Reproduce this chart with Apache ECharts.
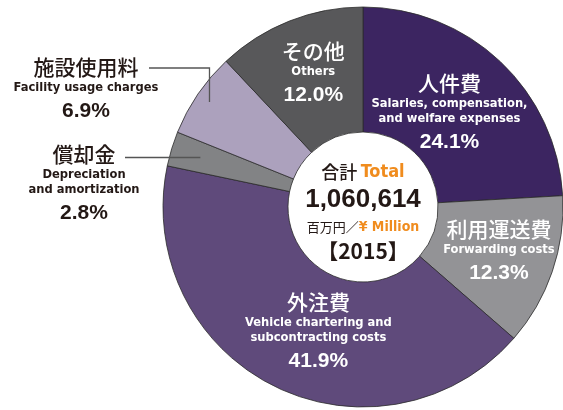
<!DOCTYPE html>
<html><head><meta charset="utf-8">
<script src="https://cdn.jsdelivr.net/npm/echarts@6/dist/echarts.min.js"></script>
<style>html,body{margin:0;padding:0;background:#fff}#c{width:563px;height:410px}</style>
</head><body><div id="c"></div>
<script>
// ---- data ----
const namesJa = ['人件費', '利用運送費', '外注費', '償却金', '施設使用料', 'その他'];
const namesEn = ['Salaries, compensation,\nand welfare expenses', 'Forwarding costs', 'Vehicle chartering and\nsubcontracting costs', 'Depreciation\nand amortization', 'Facility usage charges', 'Others'];
const shares = [24.1, 12.3, 41.9, 2.8, 6.9, 12.0];
const totalLabelJa = '合計';
const totalLabelEn = 'Total';
const totalValue = '1,060,614';
const unitJa = '百万円／';
const unitEn = '¥ Million';
const yearLabel = '2015';

// ---- style / layout ----
const colors = ['#3c2561', '#939396', '#5f4a7b', '#828385', '#aca1bd', '#58585a'];
const CX = 363, CY = 207, R_IN = 75, R_OUT = 200;
const CJK = "'Noto Sans CJK JP', sans-serif";
const NARROW = "'Liberation Sans Narrow', 'DejaVu Sans Condensed', 'Liberation Sans', sans-serif";
const NUM = "'Liberation Sans', Arial, sans-serif";
const DARK = '#231815';
const ORANGE = '#f08c1e';
const insideShift = { '人件費': [-10, 9], '利用運送費': [3, 0], '外注費': [18, 0], 'その他': [2, -2] };
const outsideLayout = {
  '施設使用料': { x: 86, y: 91, lineY: 68, lineEndX: 149, anchorR: 0.93, vertical: true },
  '償却金': { x: 84, y: 185, lineY: null, lineEndX: 125, anchorR: 0.85, vertical: false }
};

function richSet(col) {
  return {
    jp: { fontFamily: CJK, fontSize: 21, fontWeight: 500, color: col, lineHeight: 26 },
    en: { fontFamily: NARROW, fontSize: 12.8, fontWeight: 'bold', color: col, lineHeight: 15 },
    pct: { fontFamily: NUM, fontSize: 21, fontWeight: 'bold', color: col, lineHeight: 32 }
  };
}

const total = shares.reduce((a, b) => a + b, 0);
const midAngles = [];
let acc = 0;
shares.forEach(v => { midAngles.push((acc + v / 2) / total * 2 * Math.PI); acc += v; });

const data = namesJa.map((n, i) => {
  const outside = outsideLayout[n] !== undefined;
  return {
    name: n,
    value: shares[i],
    itemStyle: { color: colors[i] },
    label: {
      position: outside ? 'outside' : 'inside',
      formatter: '{jp|' + n + '}\n{en|' + namesEn[i] + '}\n{pct|' + shares[i].toFixed(1) + '%}',
      rich: richSet(outside ? DARK : '#ffffff'),
      align: 'center'
    },
    labelLine: { show: false }
  };
});

// leader lines for the outside labels, derived from the pie geometry
const leaderLines = [];
namesJa.forEach((n, i) => {
  const o = outsideLayout[n];
  if (!o) return;
  const a = midAngles[i];
  const ax = CX + Math.sin(a) * R_OUT * o.anchorR;
  const ay = CY - Math.cos(a) * R_OUT * o.anchorR;
  const pts = o.vertical
    ? [[ax, ay], [ax, o.lineY], [o.lineEndX, o.lineY]]
    : [[ax, ay], [o.lineEndX, ay]];
  leaderLines.push({
    type: 'polyline', z: 100, silent: true,
    shape: { points: pts },
    style: { stroke: '#555555', lineWidth: 1.3, fill: null }
  });
});

const chart = echarts.init(document.getElementById('c'), null, { renderer: 'canvas' });
chart.setOption({
  animation: false,
  series: [{
    type: 'pie',
    center: [CX, CY],
    radius: [R_IN, R_OUT],
    startAngle: 90,
    clockwise: true,
    avoidLabelOverlap: false,
    silent: true,
    itemStyle: { borderColor: '#2b2b2b', borderWidth: 0.8 },
    label: { show: true },
    emphasis: { disabled: true },
    data: data,
    labelLayout: function (p) {
      const n = namesJa[p.dataIndex];
      const o = outsideLayout[n];
      if (!o) {
        const s = insideShift[n] || [0, 0];
        return { dx: s[0], dy: s[1] };
      }
      return { x: o.x, y: o.y, align: 'center', verticalAlign: 'middle' };
    }
  }],
  graphic: leaderLines.concat([{
    type: 'text',
    x: CX,
    y: 211,
    z: 100,
    silent: true,
    style: {
      text: '{a|' + totalLabelJa + '} {b|' + totalLabelEn + '}\n{n|' + totalValue + '}\n{c|' + unitJa + '}{d|' + unitEn + '}\n{y|【' + yearLabel + '】}',
      align: 'center',
      verticalAlign: 'middle',
      rich: {
        a: { fontFamily: CJK, fontSize: 18, fontWeight: 500, fill: DARK, lineHeight: 26 },
        b: { fontFamily: NARROW, fontSize: 18, fontWeight: 'bold', fill: ORANGE, lineHeight: 26 },
        n: { fontFamily: NUM, fontSize: 26, fontWeight: 'bold', fill: DARK, lineHeight: 30 },
        c: { fontFamily: CJK, fontSize: 13, fontWeight: 400, fill: DARK, lineHeight: 24 },
        d: { fontFamily: NARROW, fontSize: 14, fontWeight: 'bold', fill: ORANGE, lineHeight: 24 },
        y: { fontFamily: CJK, fontSize: 21, fontWeight: 'bold', fill: DARK, lineHeight: 24 }
      }
    }
  }])
});
</script>
</body></html>
